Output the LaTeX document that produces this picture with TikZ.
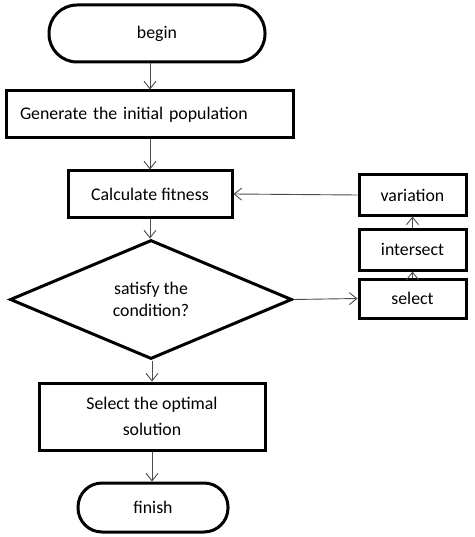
\documentclass[tikz,border=0pt]{standalone}
\usepackage{fontspec}
\setmainfont{Carlito}
\usetikzlibrary{arrows.meta,shapes.geometric}
\begin{document}
\begin{tikzpicture}[x=1pt,y=-1pt,
  box/.style={draw=black,line width=3pt,rectangle,inner sep=0pt,font=\fontsize{17.8}{22}\selectfont,align=center},
  term/.style={box},
  decis/.style={draw=black,line width=3pt,diamond,inner sep=0pt,minimum width=282pt,minimum height=119pt,font=\fontsize{17.8}{22}\selectfont,align=center},
  arr/.style={draw=black!70,line width=0.9pt,-{Straight Barb[length=7.5pt,width=12pt]}}]
\useasboundingbox (0,0) rectangle (474,537);
\node[term,minimum width=216pt,minimum height=57pt,rounded corners=28pt] (begin) at (157,33.5) {begin};
\node[box,minimum width=287pt,minimum height=47pt,text width=259pt,align=left,inner xsep=14pt] (gen) at (149.5,114.5) {Generate the initial population};
\node[box,minimum width=164pt,minimum height=46pt] (calc) at (150,194) {Calculate fitness};
\node[decis] (cond) at (151,299.5) {satisfy the\\condition?};
\node[box,minimum width=107pt,minimum height=40pt] (var) at (412.5,195) {variation};
\node[box,minimum width=107pt,minimum height=41pt] (inter) at (412.5,249.5) {intersect};
\node[box,minimum width=107pt,minimum height=39pt] (sel) at (412.5,298.5) {select};
\node[box,minimum width=226pt,minimum height=67pt,font=\fontsize{17.8}{26}\selectfont] (opt) at (152,416.5) {Select the optimal\\solution};
\node[term,minimum width=150pt,minimum height=49pt,rounded corners=24pt] (fin) at (153,507.5) {finish};
\draw[arr] (begin.south -| calc) -- (gen.north -| calc);
\draw[arr] (gen.south -| calc) -- (calc.north);
\draw[arr] (calc.south) -- (cond.north -| calc);
\draw[arr] (cond.south -| opt) -- (opt.north);
\draw[arr] (opt.south) -- (fin.north -| opt);
\draw[arr] (cond.east) -- (sel.west);
\draw[arr] (sel.north) -- (inter.south);
\draw[arr] (inter.north) -- (var.south);
\draw[arr] (var.west) -- (calc.east);
\end{tikzpicture}
\end{document}
